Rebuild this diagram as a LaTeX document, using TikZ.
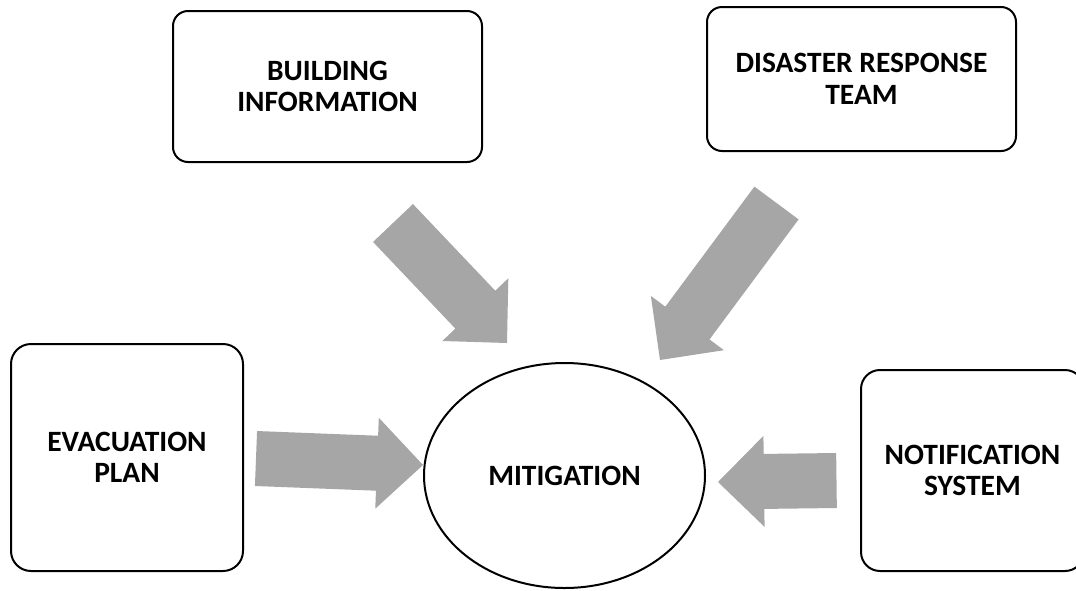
\documentclass[tikz,border=0pt]{standalone}
\usepackage{fontspec}
\setmainfont{Carlito}
\usetikzlibrary{calc,shapes.geometric}
\definecolor{arrowgray}{HTML}{A6A6A6}
\tikzset{
  box/.style={draw=black, line width=2pt, fill=white, align=center, inner sep=0pt,
    font=\fontsize{29.5}{31.5}\selectfont\bfseries},
  centre/.style={ellipse, draw=black, line width=2pt, inner sep=0pt,
    minimum width=281pt, minimum height=225pt,
    font=\fontsize{29.5}{31.5}\selectfont\bfseries},
  blockarrow/.style={fill=arrowgray, draw=none}
}
\newcommand\blockarrow[2]{%
  \coordinate (#1-base) at ($(#2)!46pt!(#1)$);
  \fill[blockarrow] ($(#1)!27.5pt!90:(#2)$) -- ($(#1-base)!27.5pt!-90:(#1)$)
    -- ($(#1-base)!45.5pt!-90:(#1)$) -- (#2)
    -- ($(#1-base)!45.5pt!90:(#1)$) -- ($(#1-base)!27.5pt!90:(#1)$)
    -- ($(#1)!27.5pt!-90:(#2)$) -- cycle;}
\begin{document}
\begin{tikzpicture}[x=1pt,y=-1pt]
\useasboundingbox (0,0) rectangle (1076,590);
\fill[white] (0,0) rectangle (1076,590);

\node[box, rounded corners=15pt, minimum width=309pt, minimum height=151pt] (bi) at (327.5,86.5) {BUILDING\\INFORMATION};
\node[box, rounded corners=15pt, minimum width=309pt, minimum height=144pt] (drt) at (861.5,79) {DISASTER RESPONSE\\TEAM};
\node[box, rounded corners=20pt, minimum width=232pt, minimum height=227pt] (ep) at (127,457.5) {EVACUATION\\PLAN};
\node[box, rounded corners=19pt, minimum width=223pt, minimum height=201pt] (ns) at (972.5,470.5) {NOTIFICATION\\SYSTEM};
\node[centre] (mit) at (564.5,475.5) {MITIGATION};

\coordinate (a1tail) at (393,223);
\coordinate (a1tip) at (507,343);
\coordinate (a2tail) at (776.5,203);
\coordinate (a2tip) at (660,360);
\coordinate (a3tail) at (256,458.5);
\coordinate (a3tip) at (423,465);
\coordinate (a4tail) at (836.5,480.5);
\coordinate (a4tip) at (718,482);

\blockarrow{a1tail}{a1tip}
\blockarrow{a2tail}{a2tip}
\blockarrow{a3tail}{a3tip}
\blockarrow{a4tail}{a4tip}
\end{tikzpicture}
\end{document}
